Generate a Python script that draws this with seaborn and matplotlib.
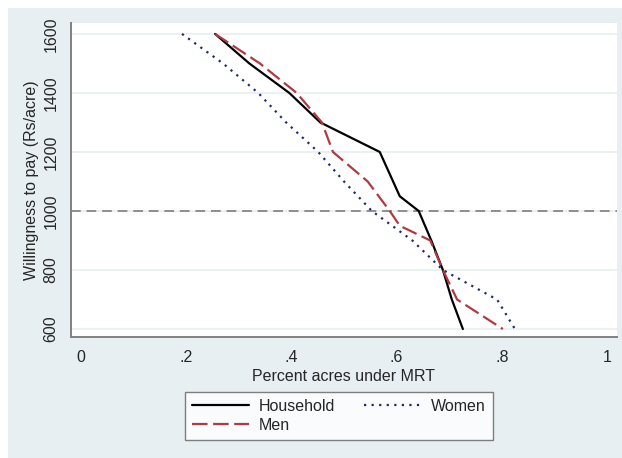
import matplotlib
matplotlib.use("Agg")
import matplotlib.pyplot as plt
from matplotlib.patches import Rectangle
import numpy as np
import pandas as pd
import seaborn as sns

# values (x = share of acres, y = WTP)
wtp_household = [1600, 1500, 1400, 1300, 1200, 1050, 1000, 900, 800, 700, 600]
pct_household = [0.255, 0.32, 0.396, 0.455, 0.568, 0.606, 0.642, 0.666, 0.688, 0.705, 0.726]

wtp_men = [1600, 1500, 1400, 1300, 1200, 1100, 1000, 950, 900, 800, 700, 600]
pct_men = [0.255, 0.34, 0.41, 0.458, 0.479, 0.545, 0.587, 0.606, 0.664, 0.688, 0.715, 0.802]

wtp_women = [1600, 1500, 1400, 1300, 1200, 1100, 1000, 900, 800, 700, 600]
pct_women = [0.192, 0.27, 0.337, 0.39, 0.451, 0.50, 0.553, 0.63, 0.688, 0.791, 0.825]

groups = ["Household", "Men", "Women"]
x_ticks = [0, 0.2, 0.4, 0.6, 0.8, 1.0]
x_tick_labels = ["0", ".2", ".4", ".6", ".8", "1"]
y_ticks = [600, 800, 1000, 1200, 1400, 1600]
cutoff = 1000

df = pd.concat([
    pd.DataFrame({"pct": pct_household, "wtp": wtp_household, "group": "Household"}),
    pd.DataFrame({"pct": pct_men, "wtp": wtp_men, "group": "Men"}),
    pd.DataFrame({"pct": pct_women, "wtp": wtp_women, "group": "Women"}),
], ignore_index=True)

sns.set_style("white")
plt.rcParams['font.family'] = ['Liberation Sans', 'DejaVu Sans']
fs = 11.5

bg = '#e7eff2'
fig = plt.figure(figsize=(6.22, 4.58), dpi=100)
fig.patch.set_facecolor('white')
fig.patches.append(Rectangle((8 / 622, 0), 1, 450 / 458, transform=fig.transFigure,
                             facecolor=bg, edgecolor='none', zorder=-10))

ax = fig.add_axes([71 / 622, 1 - 337 / 458, (617 - 71) / 622, (337 - 23) / 458])
ax.set_facecolor('white')

# light horizontal grid
for yv in y_ticks:
    ax.axhline(yv, color='#e6eff1', lw=1.2, zorder=0)
ax.axhline(cutoff, color='#8e8e8e', lw=1.4, ls=(0, (5, 3)), zorder=1)

palette = {"Household": "black", "Men": "#b03a42", "Women": "#1e2c6e"}
dashes = {"Household": "", "Men": (7, 2.5), "Women": (1, 2.4)}
sns.lineplot(data=df, x="pct", y="wtp", hue="group", style="group", hue_order=groups,
             style_order=groups, palette=palette, dashes=dashes, sort=False,
             estimator=None, linewidth=1.6, ax=ax, zorder=3)

ax.set_xlim(-0.019, 1.019)
ax.set_ylim(573, 1637)
ax.set_xticks(x_ticks)
ax.set_xticklabels(x_tick_labels)
ax.set_yticks(y_ticks)
ax.set_yticklabels([str(v) for v in y_ticks], rotation=90, va='center')
ax.tick_params(axis='both', direction='out', length=5, width=1.2, color='#808080',
               labelsize=fs, pad=4)

for side in ['top', 'right']:
    ax.spines[side].set_visible(False)
for side in ['left', 'bottom']:
    ax.spines[side].set_color('#808080')
    ax.spines[side].set_linewidth(1.4)

ax.set_xlabel("Percent acres under MRT", fontsize=fs, labelpad=3)
ax.set_ylabel("Willingness to pay (Rs/acre)", fontsize=fs, labelpad=3)

handles, labels = ax.get_legend_handles_labels()
ax.get_legend().remove()
leg = fig.legend(handles, labels, loc='center', bbox_to_anchor=(339 / 622, 1 - 416 / 458),
                 ncol=2, fontsize=fs, frameon=True, fancybox=False, handlelength=3.6,
                 columnspacing=1.8, borderpad=0.45, labelspacing=0.25, handletextpad=0.6)
leg.get_frame().set_edgecolor('#606060')
leg.get_frame().set_linewidth(1.0)

fig.savefig("out.png", dpi=100, facecolor=fig.get_facecolor())
